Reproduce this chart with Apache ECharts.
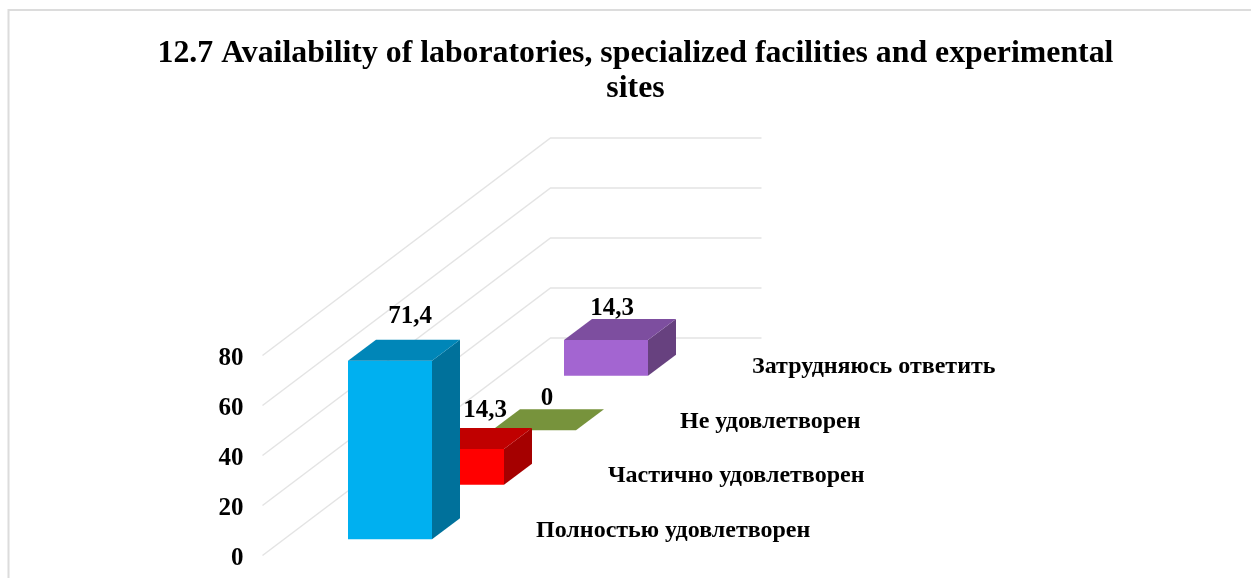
<!DOCTYPE html>
<html><head><meta charset="utf-8">
<style>html,body{margin:0;padding:0;background:#fff}#c{width:1251px;height:578px}</style>
<script src="https://cdn.jsdelivr.net/npm/echarts@6/dist/echarts.min.js"></script>
</head><body><div id="c"></div>
<script>
const titleText = '12.7 Availability of laboratories, specialized facilities and experimental\nsites';
const categories = ['Полностью удовлетворен','Частично удовлетворен','Не удовлетворен','Затрудняюсь ответить'];
const values = [71.4, 14.3, 0, 14.3];
const valueLabels = ['71,4','14,3','0','14,3'];
const valueTicks = [0,20,40,60,80];
const frontColors = ['#00B0F0','#FF0000','#77933C','#A365D1'];
const topColors = ['#0086B8','#C00000','#77933C','#7D4E9F'];
const sideColors = ['#00719B','#A50000','#77933C','#67417F'];

const FONT = '"Liberation Serif","Times New Roman",serif';
const chart = echarts.init(document.getElementById('c'), null, {renderer:'canvas'});
const BAND_RISE = 54.5, BAR_W = 84, DEPTH_X = 28, DEPTH_Y = 21;
const labelNudge = [[20,-44],[23,-39],[13,-32],[6,-32]];

function wallItem(params, api){
  const cs = params.coordSys;
  const y = api.coord([0, api.value(0)])[1];
  const x0 = cs.x, x1 = cs.x + cs.width, x2 = x1 + 211, y1 = y - 217.5;
  return {type:'polyline', shape:{points:[[x0,y],[x1,y1],[x2,y1]]},
    style:{stroke:'#e4e4e4', lineWidth:1.5, fill:null}, silent:true};
}
function barItem(params, api){
  const i = api.value(0);
  const p0 = api.coord([i, 0]);
  const h = api.size([0, api.value(1)])[1];
  const l = Math.round(p0[0] + 49.2), r = l + BAR_W;
  const b = p0[1] - 16.2 - BAND_RISE * i, t = b - h;
  const dx = DEPTH_X, dy = DEPTH_Y;
  const poly = (pts, fill) => ({type:'polygon', shape:{points:pts}, style:{fill:fill}});
  const kids = [];
  if (h > 0) {
    kids.push(poly([[r,t],[r+dx,t-dy],[r+dx,b-dy],[r,b]], sideColors[i]));
    kids.push(poly([[l,t],[r,t],[r,b],[l,b]], frontColors[i]));
  }
  kids.push(poly([[l,t],[l+dx,t-dy],[r+dx,t-dy],[r,t]], topColors[i]));
  kids.push({type:'text', z2:40, style:{text:valueLabels[i], x:(l+r)/2+labelNudge[i][0], y:t+labelNudge[i][1],
    align:'center', verticalAlign:'middle', fill:'#000', font:'bold 25px '+FONT}});
  kids.push({type:'text', z2:40, style:{text:categories[i], x:p0[0]+237.5, y:b-9,
    align:'left', verticalAlign:'middle', fill:'#000', font:'bold 24px '+FONT}});
  return {type:'group', children:kids};
}
const barRows = values.map((v,i)=>[i,v]).reverse();
chart.setOption({
  animation:false,
  backgroundColor:'#fff',
  title:{text:titleText, left:630.5, top:31, textAlign:'center',
    textStyle:{fontFamily:FONT, fontWeight:'bold', fontSize:31.8, lineHeight:35, color:'#000'}},
  graphic:[{type:'polyline', silent:true, shape:{points:[[8.5,578],[8.5,10],[1251,10]]},
    style:{stroke:'#dcdcdc', lineWidth:2, fill:null}}],
  grid:{left:262.5, top:355.5, width:288, height:200},
  xAxis:{type:'category', data:categories, show:false},
  yAxis:{type:'value', min:0, max:80, interval:20,
    axisLine:{show:false}, axisTick:{show:false}, splitLine:{show:false},
    axisLabel:{margin:19, color:'#000', fontFamily:FONT, fontWeight:'bold', fontSize:25, verticalAlign:'top', lineHeight:6}},
  series:[
    {type:'custom', renderItem:wallItem, data:valueTicks.map(v=>[v]), encode:{y:0}, clip:false, silent:true, z:1},
    {type:'custom', renderItem:barItem, data:barRows, encode:{x:0,y:1}, clip:false, silent:true, z:2}
  ]
});
</script></body></html>
